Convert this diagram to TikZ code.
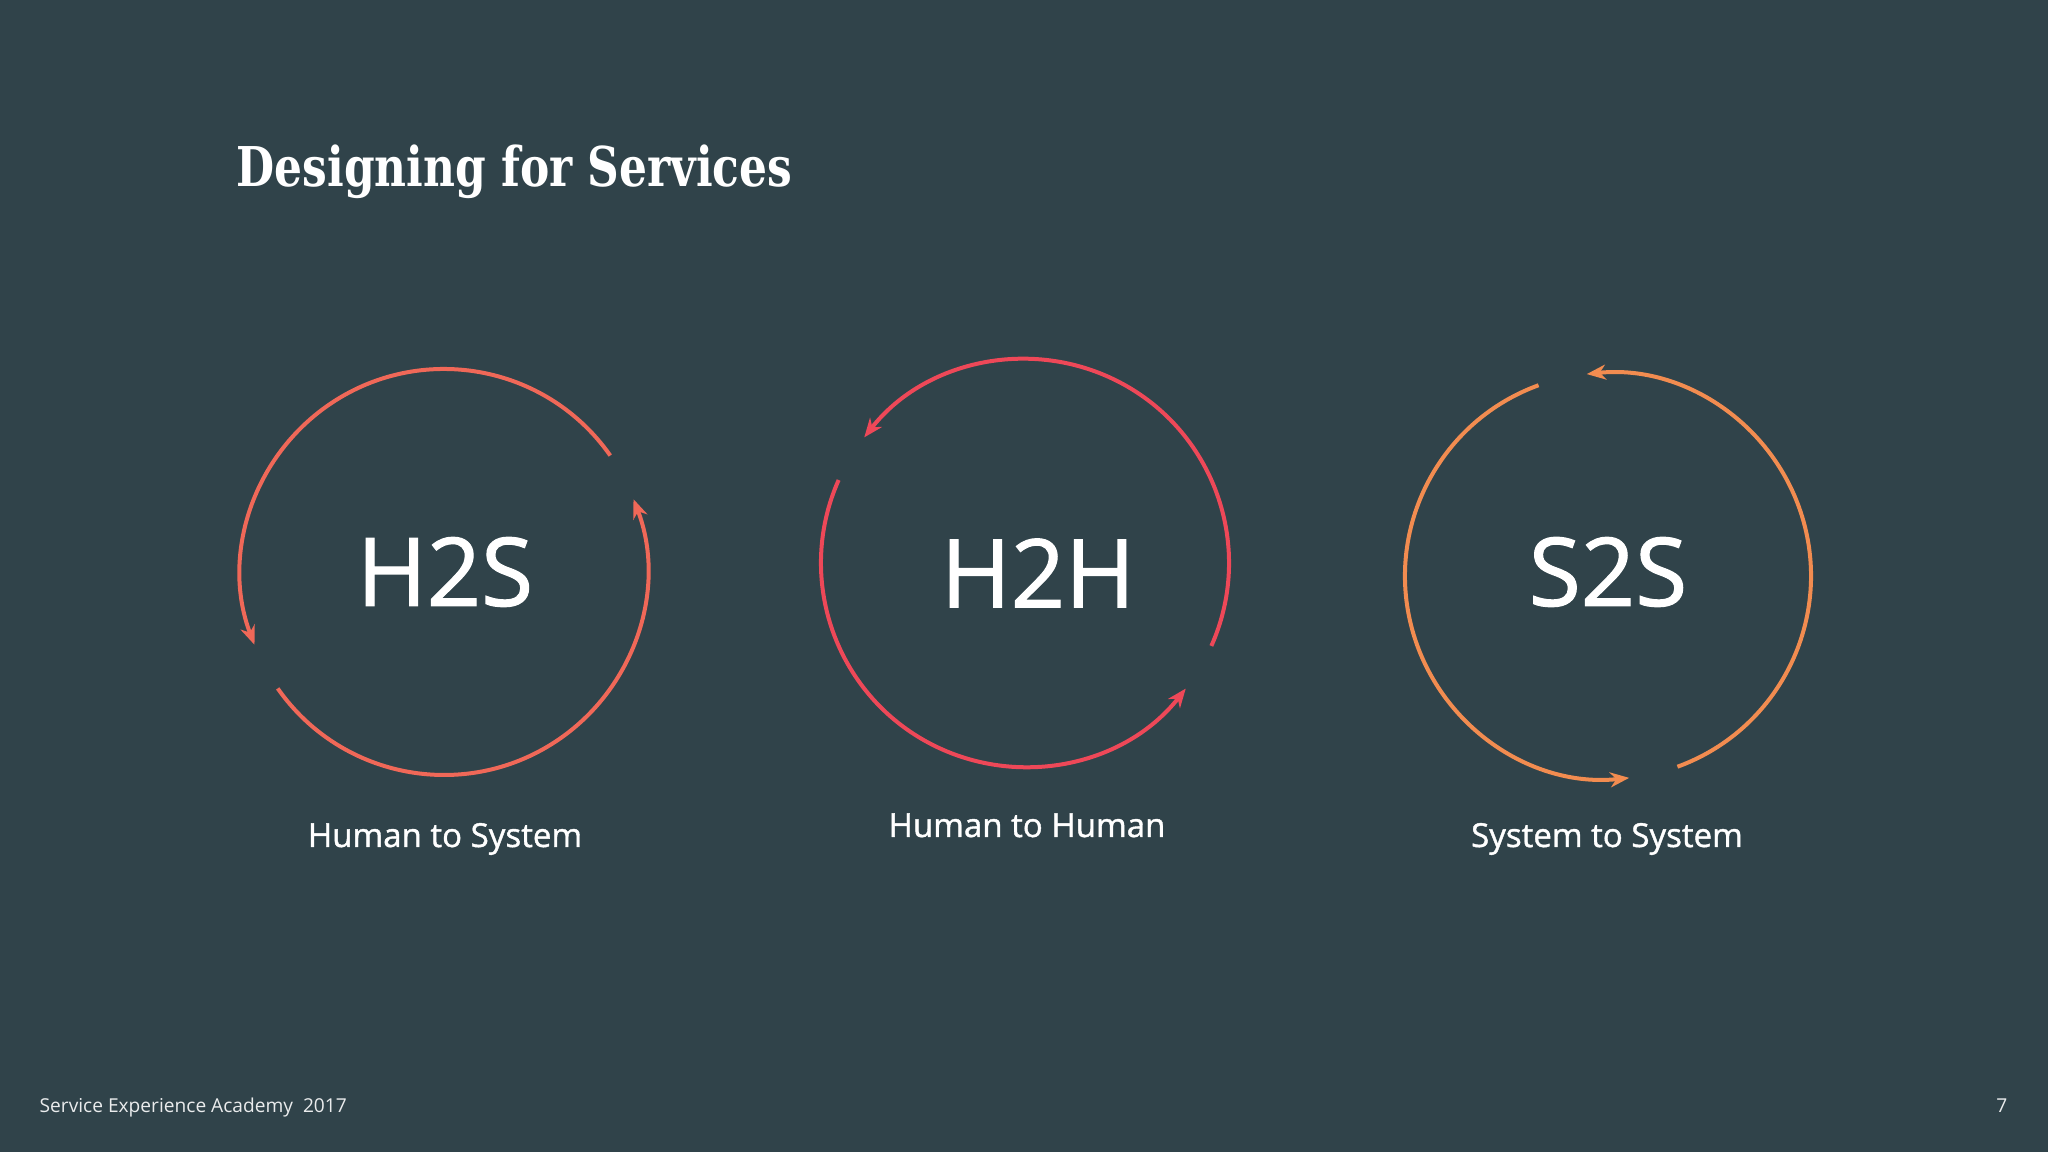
\documentclass[tikz,border=0pt]{standalone}
\usepackage{fontspec}
\setmainfont{Open Sans}
\newfontfamily\semifont{Open Sans}[FakeBold=1.2]
\newfontfamily\slabfont{DejaVu Serif Condensed}
\usetikzlibrary{arrows.meta}
\definecolor{slate}{HTML}{30434A}
\definecolor{coral}{HTML}{F06858}
\definecolor{rose}{HTML}{EE4858}
\definecolor{amber}{HTML}{F28C50}
\tikzset{
    cyclearc/.style={line width=0.4mm, -{Stealth[length=1.9mm, width=1.5mm, inset=0.6mm]}},
    codetext/.style={text=white, font=\semifont\fontsize{27}{30}\selectfont, inner sep=0pt},
    labeltext/.style={text=white, font=\semifont\fontsize{9.4}{11}\selectfont, anchor=base, inner sep=0pt},
}
\begin{document}
\begin{tikzpicture}
    \fill[slate] (0,0) rectangle (20.48,11.52);
    \useasboundingbox (0,0) rectangle (20.48,11.52);
    \node[text=white, font=\slabfont\bfseries\fontsize{15.6}{18}\selectfont, anchor=base west, inner sep=0pt] (title) at (2.36,9.65) {\scalebox{0.89}[1]{Designing for Services}};

    \coordinate (c1) at (4.44,5.80);
    \coordinate (c2) at (10.25,5.89);
    \coordinate (c3) at (16.08,5.76);

    \foreach \a in {35,215}
        \draw[cyclearc, coral] ([shift={(\a:2.03)}]c1) arc[start angle=\a, delta angle=166, radius=2.03];
    \foreach \a in {156,336}
        \draw[cyclearc, rose] ([shift={(\a:2.04)}]c2) arc[start angle=\a, delta angle=166, radius=2.04];
    \foreach \a in {110,290}
        \draw[cyclearc, amber] ([shift={(\a:2.03)}]c3) arc[start angle=\a, delta angle=166, radius=2.03];

    \node[codetext] (h2s) at (4.45,5.80) {H2S};
    \node[codetext] (h2h) at (10.38,5.79) {H2H};
    \node[codetext] (s2s) at (16.08,5.80) {S2S};

    \node[labeltext] (h2slabel) at (4.45,3.05) {Human to System};
    \node[labeltext] (h2hlabel) at (10.27,3.15) {Human to Human};
    \node[labeltext] (s2slabel) at (16.07,3.05) {System to System};

    \node[text=white!90!slate, font=\fontsize{5.45}{7}\selectfont, anchor=base west, inner sep=0pt] (footer) at (0.39,0.39) {Service Experience Academy\ \ 2017};
    \node[text=white!90!slate, font=\fontsize{5.45}{7}\selectfont, anchor=base east, inner sep=0pt] (pagenum) at (20.08,0.39) {7};
\end{tikzpicture}
\end{document}
